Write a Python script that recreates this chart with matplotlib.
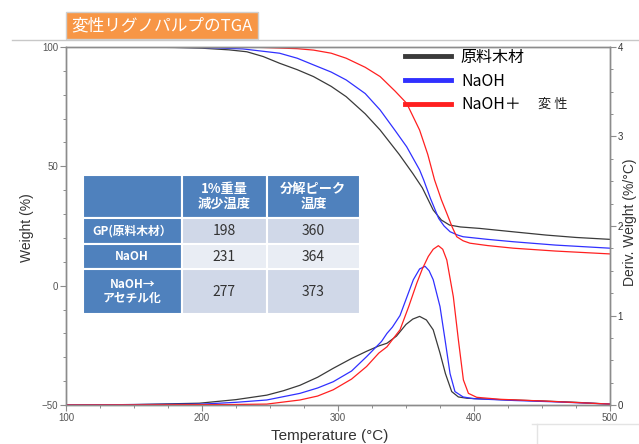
import matplotlib
matplotlib.use("Agg")
import matplotlib.pyplot as plt
from matplotlib.lines import Line2D
from matplotlib.ticker import MultipleLocator

plt.rcParams["font.family"] = ["Liberation Sans", "Noto Sans CJK JP", "DejaVu Sans"]
CJK = ["Noto Sans CJK JP", "DejaVu Sans"]

# TGA weight curves (temperature in degC, weight in %)
raw_t = [100, 150, 180, 200, 220, 233, 245, 257, 270, 282, 295, 306, 320, 331,
         345, 355, 362, 370, 376, 382, 390, 404, 430, 453, 475, 500]
raw_w = [100, 100, 99.8, 99.5, 98.8, 98.0, 96.0, 93.2, 90.5, 87.6, 83.5, 79.2, 72.0, 65.2,
         55.0, 47.0, 41.0, 31.7, 27.5, 25.4, 24.6, 24.0, 22.5, 21.2, 20.2, 19.4]

naoh_t = [100, 200, 230, 257, 270, 282, 295, 306, 320, 331, 342, 350.5, 360, 363,
          368, 374, 378, 382.4, 388, 392, 410, 429, 460, 500]
naoh_w = [100, 99.8, 99.2, 97.4, 95.3, 92.5, 89.5, 86.2, 80.5, 73.6, 65.0, 58.2, 48.5, 44.3,
          36.5, 28.2, 25.0, 22.6, 21.2, 20.5, 19.4, 18.4, 17.0, 15.7]

mod_t = [100, 230, 245, 270, 282, 295, 306, 320, 331, 342, 350.5, 360, 366, 371,
         376, 380, 384, 387.3, 392, 397, 410, 429, 460, 500]
mod_w = [100, 100, 99.8, 99.3, 98.7, 97.4, 95.3, 91.5, 87.6, 81.5, 76.4, 65.2, 55.0, 44.3,
         36.0, 30.3, 24.5, 20.5, 18.8, 17.8, 16.8, 15.7, 14.5, 13.3]

# DTG curves (deriv. weight in %/degC)
raw_dt = [100, 150, 198, 225, 247.6, 260, 272, 285, 296.5, 310, 321, 330, 336, 343,
          350, 355, 360, 365, 370, 375, 379, 383.6, 388.5, 395, 420, 450, 475, 500]
raw_d = [0.0, 0.005, 0.02, 0.06, 0.11, 0.16, 0.22, 0.31, 0.41, 0.52, 0.60, 0.66, 0.69, 0.77,
         0.90, 0.96, 0.99, 0.95, 0.84, 0.58, 0.35, 0.15, 0.09, 0.075, 0.06, 0.045, 0.03, 0.01]

naoh_dt = [100, 200, 225, 247.6, 272, 285, 296.5, 310, 321, 332, 336, 340, 345.6, 350.5,
           355.4, 360, 364, 367, 370, 375, 378.7, 382.4, 386, 392, 400, 430, 460, 500]
naoh_d = [0.0, 0.01, 0.03, 0.056, 0.13, 0.19, 0.26, 0.38, 0.54, 0.71, 0.80, 0.87, 1.0, 1.2,
          1.4, 1.52, 1.55, 1.5, 1.4, 1.1, 0.73, 0.35, 0.15, 0.09, 0.07, 0.05, 0.035, 0.01]

mod_dt = [100, 220, 247.6, 272, 285, 296.5, 310, 321, 330, 336, 340, 345.6, 352, 357.9,
          362, 366.4, 370, 373.8, 377, 380, 384.8, 388.5, 392.2, 395.9, 402, 419, 450, 500]
mod_d = [0.0, 0.005, 0.01, 0.056, 0.10, 0.17, 0.29, 0.43, 0.58, 0.65, 0.73, 0.84, 1.1, 1.36,
         1.52, 1.66, 1.74, 1.78, 1.74, 1.62, 1.21, 0.73, 0.28, 0.13, 0.086, 0.064, 0.045, 0.01]

series_labels = ["原料木材", "NaOH", "NaOH＋"]
series_colors = ["#3a3a3a", "#3030ff", "#ff2020"]

# table
col_labels = ["", "1%重量\n減少温度", "分解ピーク\n温度"]
row_labels = ["GP(原料木材）", "NaOH", "NaOH→\nアセチル化"]
onset_temp = [198, 231, 277]
peak_temp = [360, 364, 373]

fig = plt.figure(figsize=(6.39, 4.44), dpi=100)
W, H = 639, 444
ax = fig.add_axes([66 / W, 1 - 405 / H, 544 / W, 358 / H])
ax2 = ax.twinx()

for t, w, c in zip([raw_t, naoh_t, mod_t], [raw_w, naoh_w, mod_w], series_colors):
    ax.plot(t, w, color=c, lw=0.9)
for t, d, c in zip([raw_dt, naoh_dt, mod_dt], [raw_d, naoh_d, mod_d], series_colors):
    ax2.plot(t, d, color=c, lw=0.9)

ax.set_xlim(100, 500)
ax.set_ylim(-50, 100)
ax2.set_ylim(0, 4)
ax.xaxis.set_major_locator(MultipleLocator(100))
ax.xaxis.set_minor_locator(MultipleLocator(25))
ax.yaxis.set_major_locator(MultipleLocator(50))
ax.yaxis.set_minor_locator(MultipleLocator(10))
ax2.yaxis.set_major_locator(MultipleLocator(1))
ax2.yaxis.set_minor_locator(MultipleLocator(0.25))

spine_c = "#8c8c8c"
for a in (ax, ax2):
    for s in a.spines.values():
        s.set_color(spine_c)
        s.set_linewidth(1.0)
    a.tick_params(which="major", direction="out", length=4, width=0.8, color=spine_c,
                  labelsize=7, pad=1.5)
    a.tick_params(which="minor", direction="out", length=2.5, width=0.7, color=spine_c)
ax.tick_params(labelcolor="#555555")
ax2.tick_params(labelcolor="#333333")

# legend
handles = [Line2D([], [], color=c, lw=3.5) for c in series_colors]
leg = ax2.legend(handles, series_labels, loc="upper left", frameon=False,
                 bbox_to_anchor=(405 / W, 1 - 49 / H), bbox_transform=fig.transFigure,
                 borderaxespad=0, borderpad=0, handlelength=2.9, handletextpad=0.6,
                 labelspacing=0.42, prop={"family": CJK, "size": 11.5})
fig.text(538 / W, 1 - 104 / H, "変 性", fontsize=9.5, family=CJK, va="center", color="#222222")

# table of temperatures
cells = [col_labels] + [[r, str(a), str(b)] for r, a, b in zip(row_labels, onset_temp, peak_temp)]
tab = ax.table(cellText=cells, cellLoc="center",
               bbox=[(82.7 - 66) / 544, (405 - 314) / 358, 277.3 / 544, 139 / 358])
tab.auto_set_font_size(False)
col_w = [99, 85, 93.3]
row_h = [43.3, 25.7, 25.3, 44.7]
data_bg = ["#d0d8e8", "#e9edf4", "#d0d8e8"]
for (r, c), cell in tab.get_celld().items():
    cell.set_width(col_w[c])
    cell.set_height(row_h[r])
    cell.set_edgecolor("white")
    cell.set_linewidth(1.5)
    txt = cell.get_text()
    txt.set_fontfamily(CJK)
    if r == 0 or c == 0:
        cell.set_facecolor("#4f81bd")
        txt.set_color("white")
        txt.set_fontweight("bold")
        txt.set_fontsize(9.5 if r == 0 else 8.5)
    else:
        cell.set_facecolor(data_bg[r - 1])
        txt.set_color("#333333")
        txt.set_fontsize(10)
    txt.set_linespacing(1.1)
tab.set_zorder(5)

# axis labels
fig.text(27 / W, 1 - 228 / H, "Weight (%)", rotation=90, ha="center", va="center",
         fontsize=10, color="#333333")
fig.text(330 / W, 1 - 436 / H, "Temperature (°C)", ha="center", va="center",
         fontsize=11, color="#333333")
fig.text(630 / W, 1 - 222 / H, "Deriv. Weight (%/°C)", rotation=90, ha="center", va="center",
         fontsize=10, color="#333333")

# slide decorations
fig.add_artist(Line2D([12 / W, 1], [1 - 40 / H, 1 - 40 / H], color="#c8c8c8", lw=1))
fig.add_artist(Line2D([532 / W, 1], [1 - 424 / H, 1 - 424 / H], color="#e4e4e4", lw=1))
fig.add_artist(Line2D([537 / W, 537 / W], [1 - 424 / H, 0], color="#e4e4e4", lw=1))
fig.text(162 / W, 1 - 25.5 / H, "変性リグノパルプのTGA", ha="center", va="center",
         color="white", fontsize=12, family=CJK,
         bbox=dict(boxstyle="square,pad=0.3", fc="#f79646", ec="#cfcfcf", lw=1))

fig.savefig("out.png", dpi=100)
